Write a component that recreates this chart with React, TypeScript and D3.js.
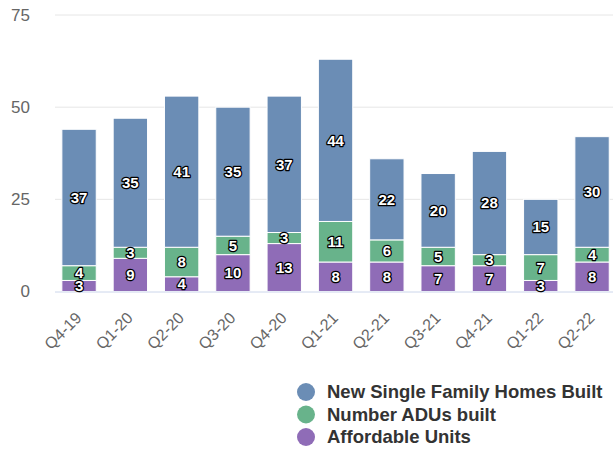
import React from "react";
import * as d3 from "d3";

const categories = ["Q4-19","Q1-20","Q2-20","Q3-20","Q4-20","Q1-21","Q2-21","Q3-21","Q4-21","Q1-22","Q2-22"];
const affordable = [3,9,4,10,13,8,8,7,7,3,8];
const adus = [4,3,8,5,3,11,6,5,3,7,4];
const sfh = [37,35,41,35,37,44,22,20,28,15,30];
const yTicks = [0,25,50,75];
const seriesNames = ["New Single Family Homes Built","Number ADUs built","Affordable Units"];
const seriesColors = ["#6b8db5","#68b38b","#8f6cb7"];

export default function App() {
  const W = 613, H = 450;
  const x = d3.scaleBand().domain(categories).range([53.4, 617.7]).paddingInner(0.33).paddingOuter(0.165);
  const y = d3.scaleLinear().domain([0, 75]).range([291.5, 15]);
  const stackData = categories.map((c, i) => ({ c, a: affordable[i], d: adus[i], s: sfh[i] }));
  const stack = d3.stack<any>().keys(["a","d","s"])(stackData);
  const colorFor: Record<string,string> = { a: seriesColors[2], d: seriesColors[1], s: seriesColors[0] };
  return (
    <div style={{ position: "absolute", left: 0, top: 0 }}>
      <svg width={W} height={H} style={{ display: "block", fontFamily: "Liberation Sans, Arial, sans-serif" }}>
        <rect width={W} height={H} fill="#fff" />
        {yTicks.map(t => (
          <g key={t}>
            {t !== 0 && <line x1={55} x2={613} y1={y(t)} y2={y(t)} stroke="#e6e6e6" strokeWidth={1} />}
            <text x={30} y={y(t)} dy="0.35em" textAnchor="end" fontSize={17} fill="#666">{t}</text>
          </g>
        ))}
        {stack.map(layer => (
          <g key={layer.key}>
            {layer.map((p, i) => (
              <rect key={i} x={x(categories[i])!} width={x.bandwidth()} y={y(p[1])} height={y(p[0]) - y(p[1])}
                fill={colorFor[layer.key]} stroke="#fff" strokeWidth={1} />
            ))}
          </g>
        ))}
        <line x1={55} x2={613} y1={y(0) + 0.5} y2={y(0) + 0.5} stroke="#ccd6eb" strokeWidth={1} />
        {stack.map(layer => (
          <g key={"l" + layer.key}>
            {layer.map((p, i) => {
              const cx = x(categories[i])! + x.bandwidth() / 2;
              const cy = (y(p[0]) + y(p[1])) / 2;
              return (
                <text key={i} x={cx} y={cy} dy="0.35em" textAnchor="middle" fontSize={15} fontWeight="bold"
                  fill="#fff" stroke="#000" strokeWidth={2.5} paintOrder="stroke" strokeLinejoin="round">
                  {p[1] - p[0]}
                </text>
              );
            })}
          </g>
        ))}
        {categories.map(c => {
          const cx = x(c)! + x.bandwidth() / 2 + 3.5;
          return (
            <text key={c} transform={`translate(${cx},${319}) rotate(-45)`} textAnchor="end" fontSize={16} fill="#666">{c}</text>
          );
        })}
        {seriesNames.map((n, i) => (
          <g key={n} transform={`translate(306,${392 + i * 22.5})`}>
            <circle r={9} fill={seriesColors[i]} />
            <text x={21} dy="0.35em" fontSize={18.5} fontWeight="bold" fill="#333">{n}</text>
          </g>
        ))}
      </svg>
    </div>
  );
}
